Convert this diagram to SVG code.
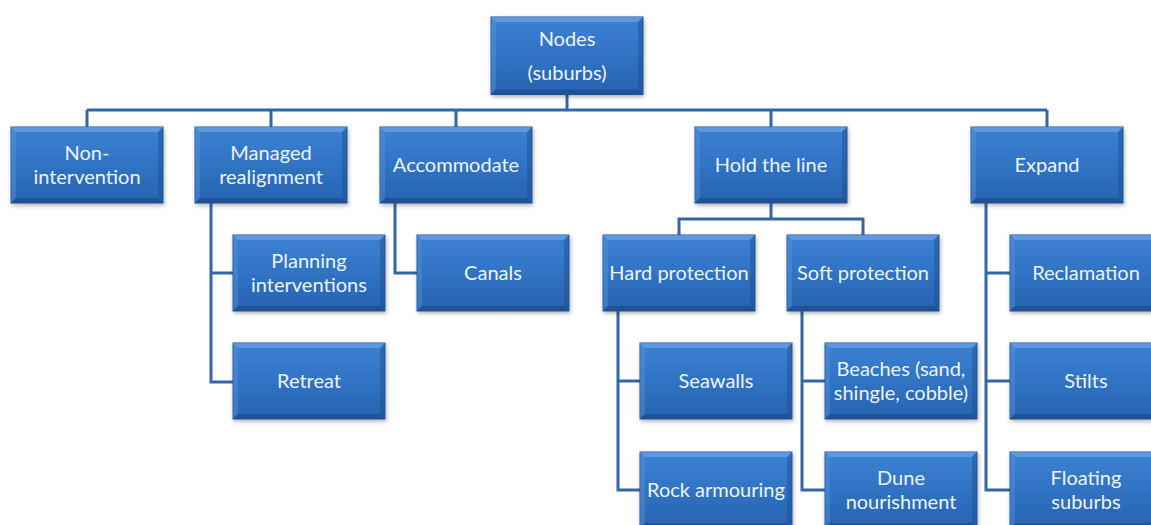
<svg xmlns="http://www.w3.org/2000/svg" xmlns:xlink="http://www.w3.org/1999/xlink" width="1151" height="525" viewBox="0 0 1151 525">
<defs>
<linearGradient id="fill" x1="0" y1="0" x2="0" y2="1">
<stop offset="0" stop-color="#3d81d3"/>
<stop offset="0.5" stop-color="#3073c4"/>
<stop offset="1" stop-color="#2763af"/>
</linearGradient>
<filter id="sh" x="-10%" y="-10%" width="130%" height="140%">
<feDropShadow dx="1" dy="2" stdDeviation="2" flood-color="#000" flood-opacity="0.3"/>
</filter>
<g id="box">
<rect width="152" height="76" fill="url(#fill)" stroke="#24569a" stroke-width="1" filter="url(#sh)"/>
<polygon points="0,0 152,0 147,5 5,5" fill="#7fb2ec" opacity="0.5"/>
<polygon points="0,0 5,5 5,71 0,76" fill="#5a95dc" opacity="0.4"/>
<polygon points="152,0 152,76 147,71 147,5" fill="#1d4d8c" opacity="0.45"/>
<polygon points="0,76 152,76 147,71 5,71" fill="#1a467f" opacity="0.55"/>
</g>
<style>
.lbl{font-family:Lato,"Open Sans","Liberation Sans",sans-serif;font-size:20px;fill:#eef3fa;text-anchor:middle}
.con{fill:none;stroke:#3466a6;stroke-width:3}
</style>
</defs>
<rect width="1151" height="525" fill="#ffffff"/>
<g id="connectors">
<path class="con" d="M567,94 V110 M87,110 H1047 M87,110 V127 M271,110 V127 M456,110 V127 M771,110 V127 M1047,110 V127"/>
<path class="con" d="M211,203 V382 H233 M211,273 H233"/>
<path class="con" d="M395,203 V273 H417"/>
<path class="con" d="M771,203 V219 M679,235 V219 H863 V235"/>
<path class="con" d="M618,310 V490 H640 M618,381 H640"/>
<path class="con" d="M802,310 V490 H825 M802,381 H825"/>
<path class="con" d="M986,203 V490 H1010 M986,273 H1010 M986,381 H1010"/>
</g>
<g id="n-nodes" transform="translate(491,17)"><use xlink:href="#box" transform="scale(1,1.02)"/><text class="lbl" x="76" y="29">Nodes</text><text class="lbl" x="76" y="63">(suburbs)</text></g>
<g id="n-nonint" transform="translate(11,127)"><use xlink:href="#box"/><text class="lbl" x="76" y="32.5">Non-</text><text class="lbl" x="76" y="57">intervention</text></g>
<g id="n-managed" transform="translate(195,127)"><use xlink:href="#box"/><text class="lbl" x="76" y="32.5">Managed</text><text class="lbl" x="76" y="57">realignment</text></g>
<g id="n-accommodate" transform="translate(380,127)"><use xlink:href="#box"/><text class="lbl" x="76" y="45">Accommodate</text></g>
<g id="n-hold" transform="translate(695,127)"><use xlink:href="#box"/><text class="lbl" x="76" y="45">Hold the line</text></g>
<g id="n-expand" transform="translate(971,127)"><use xlink:href="#box"/><text class="lbl" x="76" y="45">Expand</text></g>
<g id="n-planning" transform="translate(233,235)"><use xlink:href="#box"/><text class="lbl" x="76" y="32.5">Planning</text><text class="lbl" x="76" y="57">interventions</text></g>
<g id="n-canals" transform="translate(417,235)"><use xlink:href="#box"/><text class="lbl" x="76" y="45">Canals</text></g>
<g id="n-hard" transform="translate(603,235)"><use xlink:href="#box"/><text class="lbl" x="76" y="45">Hard protection</text></g>
<g id="n-soft" transform="translate(787,235)"><use xlink:href="#box"/><text class="lbl" x="76" y="45">Soft protection</text></g>
<g id="n-reclamation" transform="translate(1010,235)"><use xlink:href="#box"/><text class="lbl" x="76" y="45">Reclamation</text></g>
<g id="n-retreat" transform="translate(233,343)"><use xlink:href="#box"/><text class="lbl" x="76" y="45">Retreat</text></g>
<g id="n-seawalls" transform="translate(640,343)"><use xlink:href="#box"/><text class="lbl" x="76" y="45">Seawalls</text></g>
<g id="n-beaches" transform="translate(825,343)"><use xlink:href="#box"/><text class="lbl" x="76" y="32.5">Beaches (sand,</text><text class="lbl" x="76" y="57">shingle, cobble)</text></g>
<g id="n-stilts" transform="translate(1010,343)"><use xlink:href="#box"/><text class="lbl" x="76" y="45">Stilts</text></g>
<g id="n-rock" transform="translate(640,452)"><use xlink:href="#box"/><text class="lbl" x="76" y="45">Rock armouring</text></g>
<g id="n-dune" transform="translate(825,452)"><use xlink:href="#box"/><text class="lbl" x="76" y="32.5">Dune</text><text class="lbl" x="76" y="57">nourishment</text></g>
<g id="n-floating" transform="translate(1010,452)"><use xlink:href="#box"/><text class="lbl" x="76" y="32.5">Floating</text><text class="lbl" x="76" y="57">suburbs</text></g>
</svg>
